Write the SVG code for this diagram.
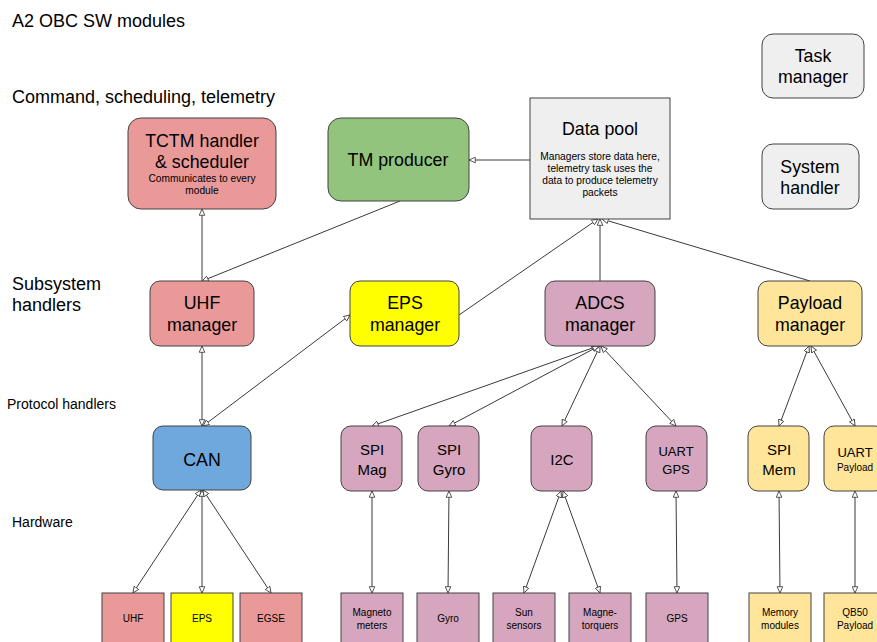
<svg xmlns="http://www.w3.org/2000/svg" width="877" height="642" viewBox="0 0 877 642">
  <style>
    text { font-family: "Liberation Sans", Arial, sans-serif; fill: #000; }
    .box { stroke: #434343; stroke-width: 1; }
    .red { fill: #ea9999; }
    .green { fill: #93c47d; }
    .grey { fill: #efefef; }
    .yellow { fill: #ffff00; }
    .pink { fill: #d5a6bd; }
    .sand { fill: #ffe599; }
    .blue { fill: #6fa8dc; }
    .t17 { font-size: 17.8px; text-anchor: middle; }
    .t15 { font-size: 15px; text-anchor: middle; }
    .t13 { font-size: 13px; text-anchor: middle; }
    .t10 { font-size: 10px; text-anchor: middle; }
    .t9 { font-size: 10.2px; text-anchor: middle; }
    .lbl { font-size: 18px; }
    .lbl14 { font-size: 14px; }
    .conn line { stroke: #3a3a3a; stroke-width: 1; fill: none; }
    .one { marker-end: url(#arr); }
    .two { marker-start: url(#arr); marker-end: url(#arr); }
  </style>
  <defs>
    <marker id="arr" viewBox="0 0 10 10" refX="9.5" refY="5" markerWidth="7" markerHeight="7" markerUnits="userSpaceOnUse" orient="auto-start-reverse">
      <path d="M0.5,1 L9.5,5 L0.5,9 Z" fill="#fff" stroke="#3a3a3a" stroke-width="1.2"/>
    </marker>
  </defs>

  <rect width="877" height="642" fill="#fff"/>

  <!-- section labels -->
  <text class="lbl" x="12" y="27">A2 OBC SW modules</text>
  <text class="lbl" x="12" y="103">Command, scheduling, telemetry</text>
  <text class="lbl" x="12" y="290">Subsystem</text>
  <text class="lbl" x="12" y="311">handlers</text>
  <text class="lbl14" x="7" y="409">Protocol handlers</text>
  <text class="lbl14" x="12" y="527">Hardware</text>

  <!-- connectors -->
  <g id="connectors" class="conn">
    <line class="one" x1="202" y1="281" x2="202" y2="209"/>
    <line class="one" x1="400" y1="201" x2="202" y2="281"/>
    <line class="one" x1="530" y1="160" x2="469" y2="160"/>
    <line class="one" x1="459" y1="315" x2="598" y2="219"/>
    <line class="one" x1="600" y1="281" x2="600" y2="219"/>
    <line class="one" x1="810" y1="281" x2="602" y2="219"/>
    <line class="two" x1="202" y1="346" x2="202" y2="426"/>
    <line class="two" x1="203" y1="426" x2="350" y2="315"/>
    <line class="two" x1="598" y1="346" x2="372" y2="426"/>
    <line class="two" x1="599" y1="346" x2="449" y2="426"/>
    <line class="two" x1="600" y1="346" x2="562" y2="426"/>
    <line class="two" x1="601" y1="346" x2="676" y2="426"/>
    <line class="two" x1="809" y1="346" x2="779" y2="426"/>
    <line class="two" x1="811" y1="346" x2="855" y2="426"/>
    <line class="two" x1="201" y1="490" x2="133" y2="593"/>
    <line class="two" x1="202" y1="490" x2="202" y2="593"/>
    <line class="two" x1="203" y1="490" x2="271" y2="593"/>
    <line class="two" x1="372" y1="491" x2="372" y2="593"/>
    <line class="two" x1="449" y1="491" x2="448" y2="593"/>
    <line class="two" x1="561" y1="491" x2="524" y2="593"/>
    <line class="two" x1="563" y1="491" x2="600" y2="593"/>
    <line class="two" x1="676" y1="491" x2="677" y2="593"/>
    <line class="two" x1="779" y1="491" x2="780" y2="593"/>
    <line class="two" x1="855" y1="491" x2="855" y2="593"/>
  </g>

  <!-- command / telemetry layer -->
  <g id="tctm">
    <rect class="box red" x="128" y="118" width="148" height="91" rx="13"/>
    <text class="t17" x="202" y="147">TCTM handler</text>
    <text class="t17" x="202" y="168">&amp; scheduler</text>
    <text class="t9" x="202" y="182">Communicates to every</text>
    <text class="t9" x="202" y="194">module</text>
  </g>
  <g id="tm-producer">
    <rect class="box green" x="328" y="118" width="141" height="83" rx="13"/>
    <text class="t17" x="398" y="166">TM producer</text>
  </g>
  <g id="data-pool">
    <rect class="box grey" x="530" y="98" width="140" height="121"/>
    <text class="t17" x="600" y="135">Data pool</text>
    <text class="t9" x="600" y="160">Managers store data here,</text>
    <text class="t9" x="600" y="172">telemetry task uses the</text>
    <text class="t9" x="600" y="184">data to produce telemetry</text>
    <text class="t9" x="600" y="196">packets</text>
  </g>
  <g id="task-manager">
    <rect class="box grey" x="762" y="34" width="102" height="64" rx="11"/>
    <text class="t17" x="813" y="62">Task</text>
    <text class="t17" x="813" y="83">manager</text>
  </g>
  <g id="system-handler">
    <rect class="box grey" x="762" y="144" width="97" height="65" rx="11"/>
    <text class="t17" x="810" y="173">System</text>
    <text class="t17" x="810" y="194">handler</text>
  </g>

  <!-- subsystem handlers -->
  <g id="uhf-manager">
    <rect class="box red" x="150" y="281" width="104" height="65" rx="10"/>
    <text class="t17" x="202" y="309">UHF</text>
    <text class="t17" x="202" y="331">manager</text>
  </g>
  <g id="eps-manager">
    <rect class="box yellow" x="350" y="281" width="109" height="65" rx="10"/>
    <text class="t17" x="405" y="309">EPS</text>
    <text class="t17" x="405" y="331">manager</text>
  </g>
  <g id="adcs-manager">
    <rect class="box pink" x="545" y="281" width="110" height="65" rx="10"/>
    <text class="t17" x="600" y="309">ADCS</text>
    <text class="t17" x="600" y="331">manager</text>
  </g>
  <g id="payload-manager">
    <rect class="box sand" x="758" y="281" width="104" height="65" rx="10"/>
    <text class="t17" x="810" y="309">Payload</text>
    <text class="t17" x="810" y="331">manager</text>
  </g>

  <!-- protocol handlers -->
  <g id="can">
    <rect class="box blue" x="153" y="426" width="98" height="64" rx="10"/>
    <text class="t17" x="202" y="466">CAN</text>
  </g>
  <g id="spi-mag">
    <rect class="box pink" x="341" y="426" width="61" height="65" rx="10"/>
    <text class="t15" x="372" y="455">SPI</text>
    <text class="t15" x="372" y="475">Mag</text>
  </g>
  <g id="spi-gyro">
    <rect class="box pink" x="418" y="426" width="61" height="65" rx="10"/>
    <text class="t15" x="449" y="455">SPI</text>
    <text class="t15" x="449" y="475">Gyro</text>
  </g>
  <g id="i2c">
    <rect class="box pink" x="531" y="426" width="61" height="65" rx="10"/>
    <text class="t15" x="562" y="465">I2C</text>
  </g>
  <g id="uart-gps">
    <rect class="box pink" x="646" y="426" width="61" height="65" rx="10"/>
    <text class="t13" x="676" y="456">UART</text>
    <text class="t13" x="676" y="474">GPS</text>
  </g>
  <g id="spi-mem">
    <rect class="box sand" x="748" y="426" width="61" height="65" rx="10"/>
    <text class="t15" x="779" y="455">SPI</text>
    <text class="t15" x="779" y="475">Mem</text>
  </g>
  <g id="uart-payload">
    <rect class="box sand" x="824" y="426" width="61" height="65" rx="10"/>
    <text class="t13" x="855" y="457">UART</text>
    <text class="t10" x="855" y="471">Payload</text>
  </g>

  <!-- hardware -->
  <g id="hw-uhf">
    <rect class="box red" x="102" y="593" width="62" height="60"/>
    <text class="t10" x="133" y="622">UHF</text>
  </g>
  <g id="hw-eps">
    <rect class="box yellow" x="171" y="593" width="62" height="60"/>
    <text class="t10" x="202" y="622">EPS</text>
  </g>
  <g id="hw-egse">
    <rect class="box red" x="240" y="593" width="62" height="60"/>
    <text class="t10" x="271" y="622">EGSE</text>
  </g>
  <g id="hw-magnetometers">
    <rect class="box pink" x="341" y="593" width="62" height="60"/>
    <text class="t10" x="372" y="616">Magneto</text>
    <text class="t10" x="372" y="629">meters</text>
  </g>
  <g id="hw-gyro">
    <rect class="box pink" x="417" y="593" width="62" height="60"/>
    <text class="t10" x="448" y="622">Gyro</text>
  </g>
  <g id="hw-sun-sensors">
    <rect class="box pink" x="493" y="593" width="62" height="60"/>
    <text class="t10" x="524" y="616">Sun</text>
    <text class="t10" x="524" y="629">sensors</text>
  </g>
  <g id="hw-magnetorquers">
    <rect class="box pink" x="569" y="593" width="62" height="60"/>
    <text class="t10" x="600" y="616">Magne-</text>
    <text class="t10" x="600" y="629">torquers</text>
  </g>
  <g id="hw-gps">
    <rect class="box pink" x="646" y="593" width="62" height="60"/>
    <text class="t10" x="677" y="622">GPS</text>
  </g>
  <g id="hw-memory">
    <rect class="box sand" x="749" y="593" width="62" height="60"/>
    <text class="t10" x="780" y="616">Memory</text>
    <text class="t10" x="780" y="629">modules</text>
  </g>
  <g id="hw-qb50">
    <rect class="box sand" x="824" y="593" width="62" height="60"/>
    <text class="t10" x="855" y="616">QB50</text>
    <text class="t10" x="855" y="629">Payload</text>
  </g>
</svg>
